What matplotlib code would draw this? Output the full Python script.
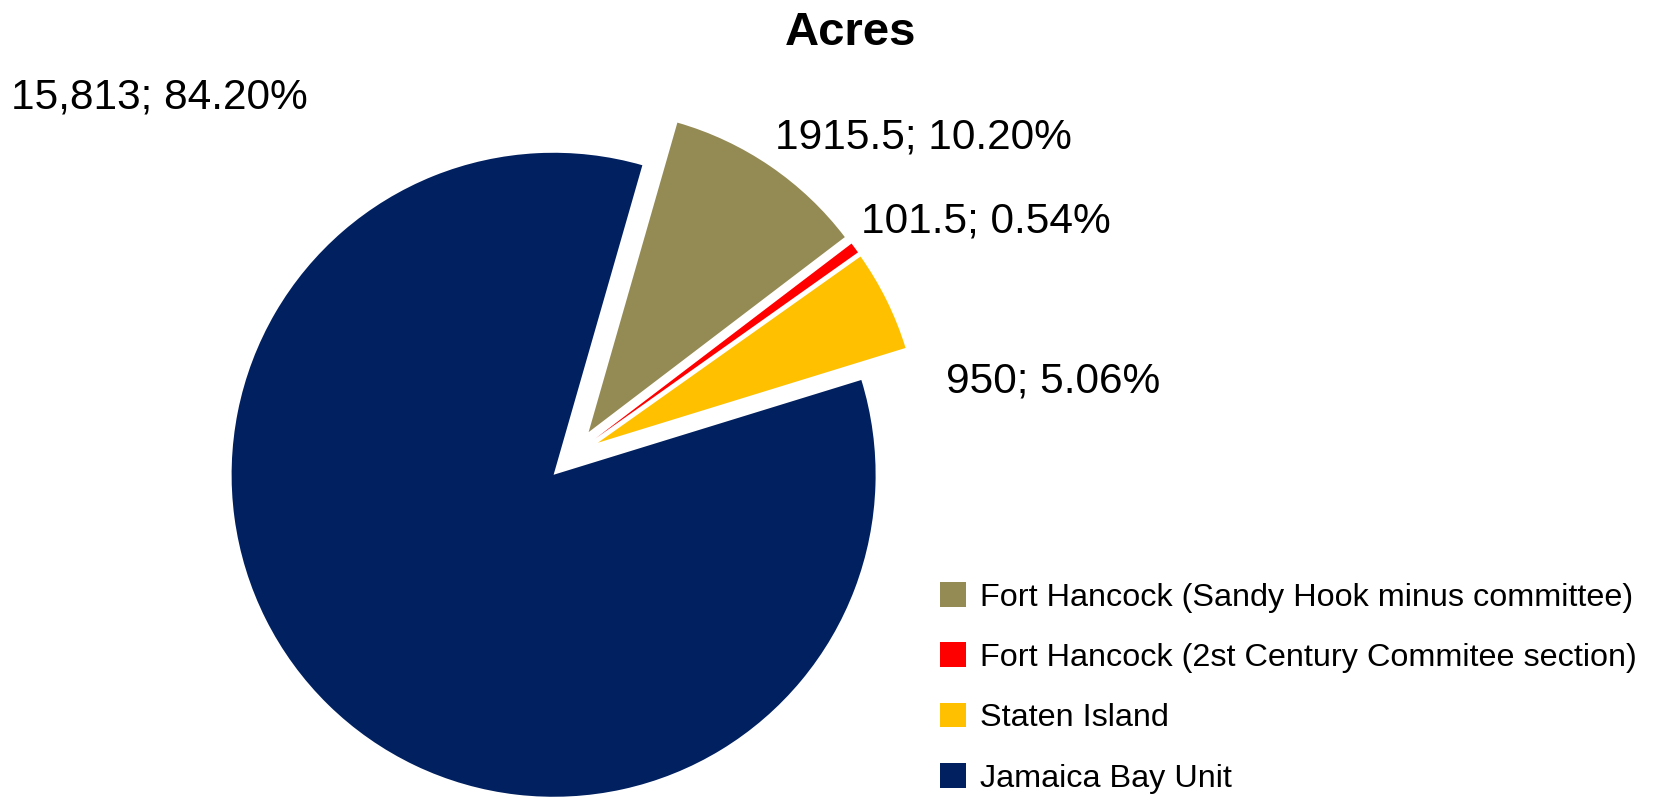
import matplotlib.pyplot as plt
from matplotlib.patches import Patch

# data
categories = ["Fort Hancock (Sandy Hook minus committee)",
              "Fort Hancock (2st Century Commitee section)",
              "Staten Island",
              "Jamaica Bay Unit"]
acres = [1915.5, 101.5, 950, 15813]
value_text = ["1915.5", "101.5", "950", "15,813"]
colors = ["#948A54", "#FF0000", "#FFC000", "#002060"]

plt.rcParams['font.family'] = ['Liberation Sans', 'DejaVu Sans']

W, H = 1671, 797
fig = plt.figure(figsize=(W / 100, H / 100), dpi=100)
ax = fig.add_axes([0, 0, 1, 1])

# pie centre / radius in pixels
cx, cy, r = 573, 455, 322
ax.pie(acres, colors=colors, startangle=74, counterclock=False,
       explode=[0.086] * 4, radius=1, wedgeprops=dict(linewidth=0))
ax.set_aspect('auto')
ax.set_xlim(-cx / r, (W - cx) / r)
ax.set_ylim(-(H - cy) / r, cy / r)
ax.axis('off')

total = sum(acres)
pct = [f"{v / total * 100:.2f}%" for v in acres]

# label anchors (left x, centre y) in pixels
label_pos = [(775, 138), (861, 222), (946, 382), (11, 97)]
for (px, py), vt, p in zip(label_pos, value_text, pct):
    fig.text(px / W, 1 - py / H, f"{vt}; {p}", fontsize=30.5,
             ha='left', va='center')

fig.text(851 / W, 1 - 33 / H, "Acres", fontsize=34, fontweight='bold',
         ha='center', va='center')

handles = [Patch(facecolor=c, edgecolor='none') for c in colors]
fig.legend(handles, categories, loc='upper left',
           bbox_to_anchor=(927 / W, 1 - 569 / H), frameon=False,
           fontsize=23.3, handlelength=0.8, handleheight=0.8,
           handletextpad=0.45, labelspacing=0.92, borderaxespad=0)

fig.savefig("out.png", dpi=100)
